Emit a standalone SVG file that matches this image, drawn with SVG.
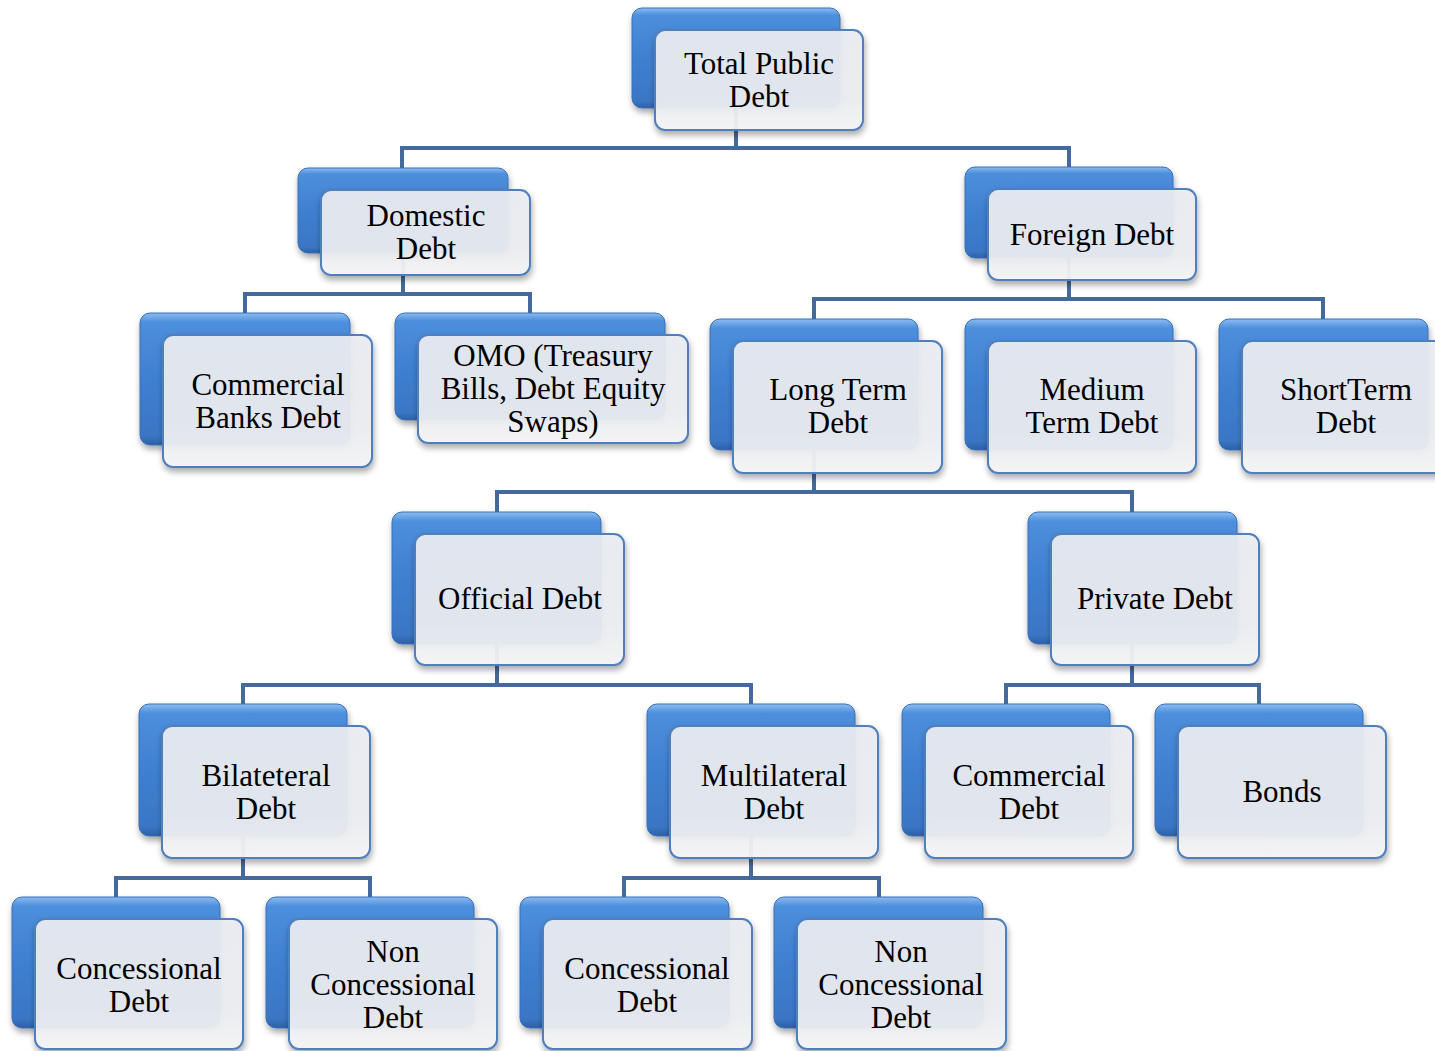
<svg xmlns="http://www.w3.org/2000/svg" width="1435" height="1051" viewBox="0 0 1435 1051">
<defs>
<linearGradient id="gBack" x1="0" y1="0" x2="0" y2="1">
<stop offset="0" stop-color="#8cbcf0"/>
<stop offset="0.07" stop-color="#4d8fdc"/>
<stop offset="0.5" stop-color="#3f80d0"/>
<stop offset="0.93" stop-color="#3a76c4"/>
<stop offset="1" stop-color="#2d5fa6"/>
</linearGradient>
<linearGradient id="gFront" x1="0" y1="0" x2="0" y2="1">
<stop offset="0" stop-color="#eaedf2"/>
<stop offset="0.7" stop-color="#eceef2"/>
<stop offset="1" stop-color="#f6f6f7"/>
</linearGradient>
<filter id="sh" x="-10%" y="-10%" width="125%" height="130%">
<feDropShadow dx="1" dy="4" stdDeviation="3" flood-color="#000" flood-opacity="0.35"/>
</filter>
<style>
.back{fill:url(#gBack);stroke:#3a6fb5;stroke-width:1;filter:url(#sh);}
.front{fill:url(#gFront);fill-opacity:0.93;stroke:#4f7fbd;stroke-width:2;filter:url(#sh);}
.t{font-family:"Liberation Serif","Times New Roman",serif;font-size:31px;text-anchor:middle;fill:#000;}
.c{fill:none;stroke:#44699c;stroke-width:4;stroke-linejoin:miter;stroke-linecap:butt;}
</style>
</defs>
<rect width="1435" height="1051" fill="#fff"/>
<g id="connectors">
<path class="c" d="M736,100 V148 M402,170 V148 H1069 V170"/>
<path class="c" d="M403,250 V294 M245,315 V294 H530 V315"/>
<path class="c" d="M1069,255 V299 M814,320 V299 H1323 V320"/>
<path class="c" d="M814,445 V492 M497,514 V492 H1132 V514"/>
<path class="c" d="M497,640 V685 M243,706 V685 H751 V706"/>
<path class="c" d="M1132,640 V685 M1006,706 V685 H1259 V706"/>
<path class="c" d="M243,830 V878 M116,899 V878 H370 V899"/>
<path class="c" d="M751,830 V878 M624,899 V878 H879 V899"/>
</g>
<g id="n-total">
<rect class="back" x="632" y="8" width="208" height="100" rx="10"/>
<rect class="front" x="655" y="30" width="208" height="100" rx="10"/>
<text class="t" x="759" y="73.5">Total Public</text>
<text class="t" x="759" y="106.5">Debt</text>
</g>
<g id="n-domestic">
<rect class="back" x="298" y="168" width="210" height="85" rx="10"/>
<rect class="front" x="321" y="190" width="209" height="85" rx="10"/>
<text class="t" x="426" y="226">Domestic</text>
<text class="t" x="426" y="259">Debt</text>
</g>
<g id="n-foreign">
<rect class="back" x="965" y="167" width="208" height="91" rx="10"/>
<rect class="front" x="988" y="189" width="208" height="91" rx="10"/>
<text class="t" x="1092" y="245">Foreign Debt</text>
</g>
<g id="n-cbanks">
<rect class="back" x="140" y="313" width="210" height="132" rx="10"/>
<rect class="front" x="163" y="335" width="209" height="132" rx="10"/>
<text class="t" x="268" y="395">Commercial</text>
<text class="t" x="268" y="428">Banks Debt</text>
</g>
<g id="n-omo">
<rect class="back" x="395" y="313" width="270" height="107" rx="10"/>
<rect class="front" x="418" y="335" width="270" height="108" rx="10"/>
<text class="t" x="553" y="366">OMO (Treasury</text>
<text class="t" x="553" y="399">Bills, Debt Equity</text>
<text class="t" x="553" y="432">Swaps)</text>
</g>
<g id="n-long">
<rect class="back" x="710" y="319" width="208" height="131" rx="10"/>
<rect class="front" x="733" y="341" width="209" height="132" rx="10"/>
<text class="t" x="838" y="400">Long Term</text>
<text class="t" x="838" y="433">Debt</text>
</g>
<g id="n-medium">
<rect class="back" x="965" y="319" width="208" height="131" rx="10"/>
<rect class="front" x="988" y="341" width="208" height="132" rx="10"/>
<text class="t" x="1092" y="400">Medium</text>
<text class="t" x="1092" y="433">Term Debt</text>
</g>
<g id="n-short">
<rect class="back" x="1219" y="319" width="209" height="131" rx="10"/>
<rect class="front" x="1242" y="341" width="209" height="132" rx="10"/>
<text class="t" x="1346" y="400">ShortTerm</text>
<text class="t" x="1346" y="433">Debt</text>
</g>
<g id="n-official">
<rect class="back" x="392" y="512" width="209" height="132" rx="10"/>
<rect class="front" x="415" y="534" width="209" height="131" rx="10"/>
<text class="t" x="520" y="609">Official Debt</text>
</g>
<g id="n-private">
<rect class="back" x="1028" y="512" width="209" height="132" rx="10"/>
<rect class="front" x="1051" y="534" width="208" height="131" rx="10"/>
<text class="t" x="1155" y="609">Private Debt</text>
</g>
<g id="n-bilateral">
<rect class="back" x="139" y="704" width="208" height="132" rx="10"/>
<rect class="front" x="162" y="726" width="208" height="132" rx="10"/>
<text class="t" x="266" y="786">Bilateteral</text>
<text class="t" x="266" y="819">Debt</text>
</g>
<g id="n-multilateral">
<rect class="back" x="647" y="704" width="208" height="132" rx="10"/>
<rect class="front" x="670" y="726" width="208" height="132" rx="10"/>
<text class="t" x="774" y="786">Multilateral</text>
<text class="t" x="774" y="819">Debt</text>
</g>
<g id="n-commercial">
<rect class="back" x="902" y="704" width="208" height="132" rx="10"/>
<rect class="front" x="925" y="726" width="208" height="132" rx="10"/>
<text class="t" x="1029" y="786">Commercial</text>
<text class="t" x="1029" y="819">Debt</text>
</g>
<g id="n-bonds">
<rect class="back" x="1155" y="704" width="208" height="132" rx="10"/>
<rect class="front" x="1178" y="726" width="208" height="132" rx="10"/>
<text class="t" x="1282" y="802">Bonds</text>
</g>
<g id="n-conc1">
<rect class="back" x="12" y="897" width="208" height="131" rx="10"/>
<rect class="front" x="35" y="919" width="208" height="130" rx="10"/>
<text class="t" x="139" y="979">Concessional</text>
<text class="t" x="139" y="1012">Debt</text>
</g>
<g id="n-nonconc1">
<rect class="back" x="266" y="897" width="208" height="131" rx="10"/>
<rect class="front" x="289" y="919" width="208" height="130" rx="10"/>
<text class="t" x="393" y="962">Non</text>
<text class="t" x="393" y="995">Concessional</text>
<text class="t" x="393" y="1028">Debt</text>
</g>
<g id="n-conc2">
<rect class="back" x="520" y="897" width="209" height="131" rx="10"/>
<rect class="front" x="543" y="919" width="209" height="130" rx="10"/>
<text class="t" x="647" y="979">Concessional</text>
<text class="t" x="647" y="1012">Debt</text>
</g>
<g id="n-nonconc2">
<rect class="back" x="774" y="897" width="209" height="131" rx="10"/>
<rect class="front" x="797" y="919" width="209" height="130" rx="10"/>
<text class="t" x="901" y="962">Non</text>
<text class="t" x="901" y="995">Concessional</text>
<text class="t" x="901" y="1028">Debt</text>
</g>
</svg>
